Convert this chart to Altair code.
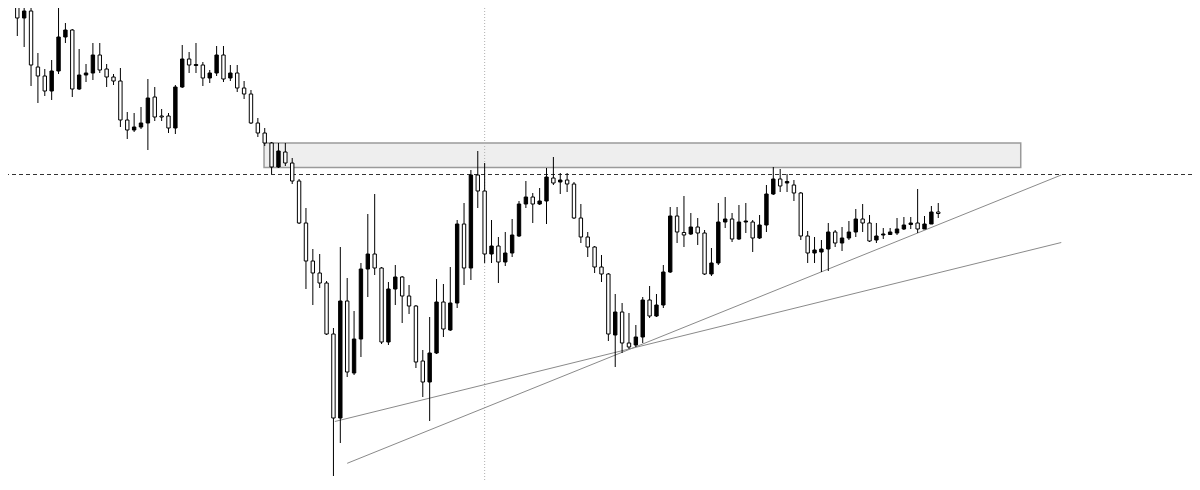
import altair as alt
import pandas as pd

high = [500,495,485,437,421,430,483,467,461,441,
        426,447,447,426,416,422,378,377,383,411,
        403,381,377,405,445,438,447,428,420,444,
        444,425,425,409,400,372,362,348,347,347,
        332,311,282,241,236,209,162,243,212,179,
        227,276,296,223,208,225,214,205,185,140,
        173,211,206,223,270,287,320,339,327,270,
        253,258,271,289,309,297,302,322,333,317,
        317,308,286,258,244,235,217,196,187,177,
        165,193,204,196,225,283,283,294,277,272,
        260,242,287,293,277,285,287,270,275,305,
        323,321,316,310,298,259,253,250,267,260,
        263,269,281,286,275,267,262,262,272,273,
        273,301,274,284,287]
low = [454,443,404,387,394,390,416,447,393,400,
       408,410,417,403,405,363,351,358,361,340,
       369,369,357,356,402,417,417,404,407,414,
       408,409,398,391,366,353,344,316,322,324,
       306,266,201,185,202,155,14,47,113,115,
       133,193,215,146,145,185,167,176,122,93,
       69,136,153,159,182,205,210,282,227,227,
       207,224,233,253,282,267,285,266,305,296,
       298,271,247,233,217,208,149,123,137,141,
       143,147,172,173,182,217,247,243,255,245,
       215,214,225,262,248,250,257,238,251,258,
       295,298,298,289,250,227,227,218,219,243,
       239,250,253,258,248,247,251,255,255,260,
       261,257,261,266,272]
open_ = [495,472,479,423,414,399,419,453,460,401,
         415,417,435,421,413,409,370,360,363,367,
         393,374,374,362,403,431,424.5,425,412,417,
         435,412,417,402,396,367,357,347,323,338,
         327,309,267,229,217,207,156,72,189,117,
         151,221,236,222,148,201,213,194,184,129,
         108,137,188,160,187,266,222,315,299,236,
         244,228,237,254,286,293,286,289,312,308,
         310,306,272,253,243,223,216,155,178,147,
         145,153,190,174,185,218,274,257.5,256,263,
         257,216,227,268,271,251,268,268,252,265,
         296,311,307,305,297,254,237,238,241,258,
         247,252,258,271,267,250,255,255.5,257,261,
         265.5,267,261,266,278]
close = [472,479,425,414,399,419,453,460,401,415,
         417,435,420,413,409,370,360,363,367,392,
         373,373,362,403,431,425,425.5,412,417,435,
         411,417,402,396,367,357,347,323,339,327,
         309,267,229,217,207,156,72,189,118,151,
         221,236,222,148,201,213,194,184,128,108,
         137,188,161,187,266,222,315,299,236,244,
         228,237,255,286,293,286,289,313,307,310,
         306,272,253,243,223,216,156,178,147,143,
         153,190,174,185,218,274,258,255,263,257,
         216,227,268,271,251,268,269,252,265,296,
         311,304,308.5,297,254,237,240,241,258,247,
         252,258,271,267,249,254,256,258,261,265,
         267,261,266,278,276.5]

# zone, levels and trend lines (bar index / price)
zone_x = [35.9, 146.0]
zone_price = [322.5, 347]
level_price = 315.5
cursor_bar = 68
trend_a = {"x": [46.2, 151.9], "p": [68.5, 247.5]}
trend_b = {"x": [48.0, 151.9], "p": [26.7, 315.0]}

df = pd.DataFrame({"i": list(range(len(high))), "open": open_, "high": high,
                   "low": low, "close": close})
df["up"] = df["close"] > df["open"]

xs = alt.Scale(domain=[-1.353, 170.92], nice=False, zero=False, padding=0)
ys = alt.Scale(domain=[8, 482], nice=False, zero=False, padding=0)
X = lambda f: alt.X(f, type="quantitative", scale=xs, axis=None)
Y = lambda f: alt.Y(f, type="quantitative", scale=ys, axis=None)

zone_df = pd.DataFrame({"x": [zone_x[0]], "x2": [zone_x[1]],
                        "y": [zone_price[0]], "y2": [zone_price[1]]})
zone = alt.Chart(zone_df).mark_rect(fill="#eeeeee", stroke="#9a9a9a", strokeWidth=1.5).encode(
    x=X("x"), x2="x2", y=Y("y"), y2="y2")

cursor = alt.Chart(pd.DataFrame({"x": [cursor_bar]})).mark_rule(
    color="#b0b0b0", strokeDash=[1, 2], strokeWidth=1).encode(x=X("x"))

level = alt.Chart(pd.DataFrame({"y": [level_price]})).mark_rule(
    color="#333333", strokeDash=[4, 3], strokeWidth=1).encode(y=Y("y"))

tl_df = pd.DataFrame({"x": [trend_a["x"][0], trend_b["x"][0]],
                      "x2": [trend_a["x"][1], trend_b["x"][1]],
                      "y": [trend_a["p"][0], trend_b["p"][0]],
                      "y2": [trend_a["p"][1], trend_b["p"][1]]})
trends = alt.Chart(tl_df).mark_rule(color="#8a8a8a", strokeWidth=1).encode(
    x=X("x"), x2="x2", y=Y("y"), y2="y2")

base = alt.Chart(df)
wicks = base.mark_rule(color="#000000", strokeWidth=1, clip=True).encode(
    x=X("i"), y=Y("low"), y2="high")
bodies = base.mark_bar(size=3.4, stroke="#000000", strokeWidth=1, clip=True).encode(
    x=X("i"), y=Y("open"), y2="close",
    fill=alt.condition("datum.up", alt.value("#000000"), alt.value("#ffffff")))

chart = alt.layer(zone, cursor, level, trends, wicks, bodies).properties(
    width=1184, height=474, autosize="none", padding=0,
    background="#ffffff"
).configure_view(stroke=None)

chart.save("out.html", embed_options={"renderer": "svg", "actions": False})
